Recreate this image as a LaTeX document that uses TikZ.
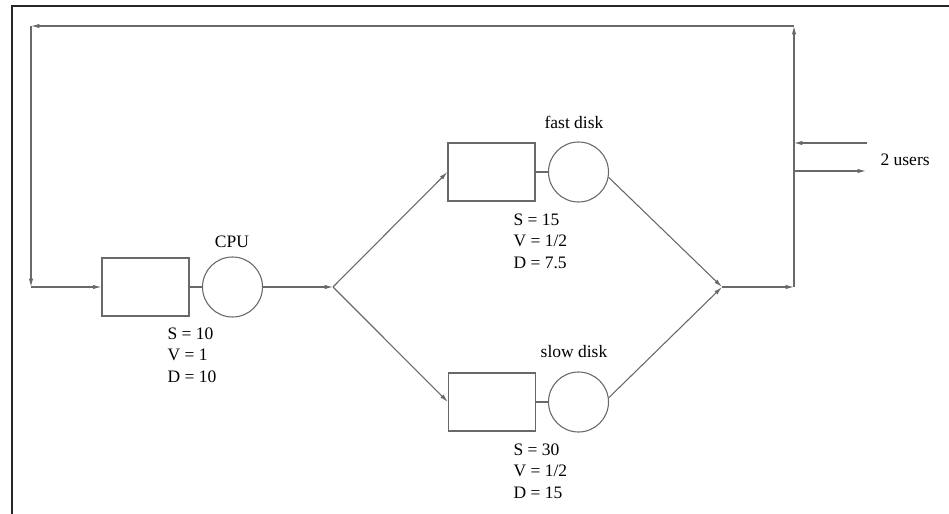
\documentclass[tikz,border=0pt]{standalone}
\usepackage{fontspec}
\setmainfont{Liberation Serif}
\usetikzlibrary{arrows.meta}
\definecolor{linegray}{RGB}{105,105,105}

\begin{document}
\begin{tikzpicture}[x=0.6pt, y=-0.6pt, line width=0.65pt, >={Latex[length=5pt,width=2.6pt]},
    flow/.style={draw=linegray},
    queue/.style={draw=linegray, minimum width=52.2pt, minimum height=34.8pt, inner sep=0},
    server/.style={draw=linegray, circle, minimum size=36pt, inner sep=0},
    tag/.style={inner sep=0, font=\fontsize{10.5}{12.6}\selectfont},
    stats/.style={anchor=north west, align=left, inner sep=0, font=\fontsize{10.5}{12.9}\selectfont}]
            \useasboundingbox (0,0) rectangle (949,514);
            \draw[line width=1.2pt, black!85] (12,514) -- (12,6) -- (949,6);
            \node[queue] (cpuq) at (145.5,287) {};
            \node[server] (cpu) at (232.5,287) {};
            \node[queue] (fastq) at (491.5,172) {};
            \node[server] (fast) at (578.5,172) {};
            \node[queue] (slowq) at (492,402) {};
            \node[server] (slow) at (578.5,402) {};
            \coordinate (fork) at (333,287);
            \coordinate (join) at (722,287);
            \coordinate (exit) at (794,287);
            \coordinate (topr) at (794,26);
            \coordinate (topl) at (31,26);
            \coordinate (back) at (31,287);
            \coordinate (inA) at (867,143);
            \coordinate (inB) at (794,143);
            \coordinate (outA) at (794,171);
            \coordinate (outB) at (866,171);
            \node[tag] (cpulbl) at (232,242) {CPU};
            \node[tag] (fastlbl) at (574,122) {fast disk};
            \node[tag] (slowlbl) at (574,352) {slow disk};
            \node[tag, anchor=west] (users) at (880,160) {2 users};
            \node[stats] (cpust) at (167,327) {S = 10\\V = 1\\D = 10};
            \node[stats] (fastst) at (513,213) {S = 15\\V = 1/2\\D = 7.5};
            \node[stats] (slowst) at (513,443) {S = 30\\V = 1/2\\D = 15};
            \draw[flow, ->] (back) -- (cpuq);
            \draw[flow] (cpuq) -- (cpu);
            \draw[flow, ->] (cpu) -- (fork);
            \draw[flow, ->] (fork) -- (fastq.west);
            \draw[flow, ->] (fork) -- (slowq.west);
            \draw[flow] (fastq) -- (fast);
            \draw[flow] (slowq) -- (slow);
            \draw[flow, ->] (fast.-10) -- (join);
            \draw[flow, ->] (slow.8) -- (join);
            \draw[flow, ->] (join) -- (exit);
            \draw[flow, ->] (exit) -- (topr);
            \draw[flow, ->] (topr) -- (topl);
            \draw[flow, ->] (topl) -- (back);
            \draw[flow, ->] (inA) -- (inB);
            \draw[flow, ->] (outA) -- (outB);
        \end{tikzpicture}
\end{document}
